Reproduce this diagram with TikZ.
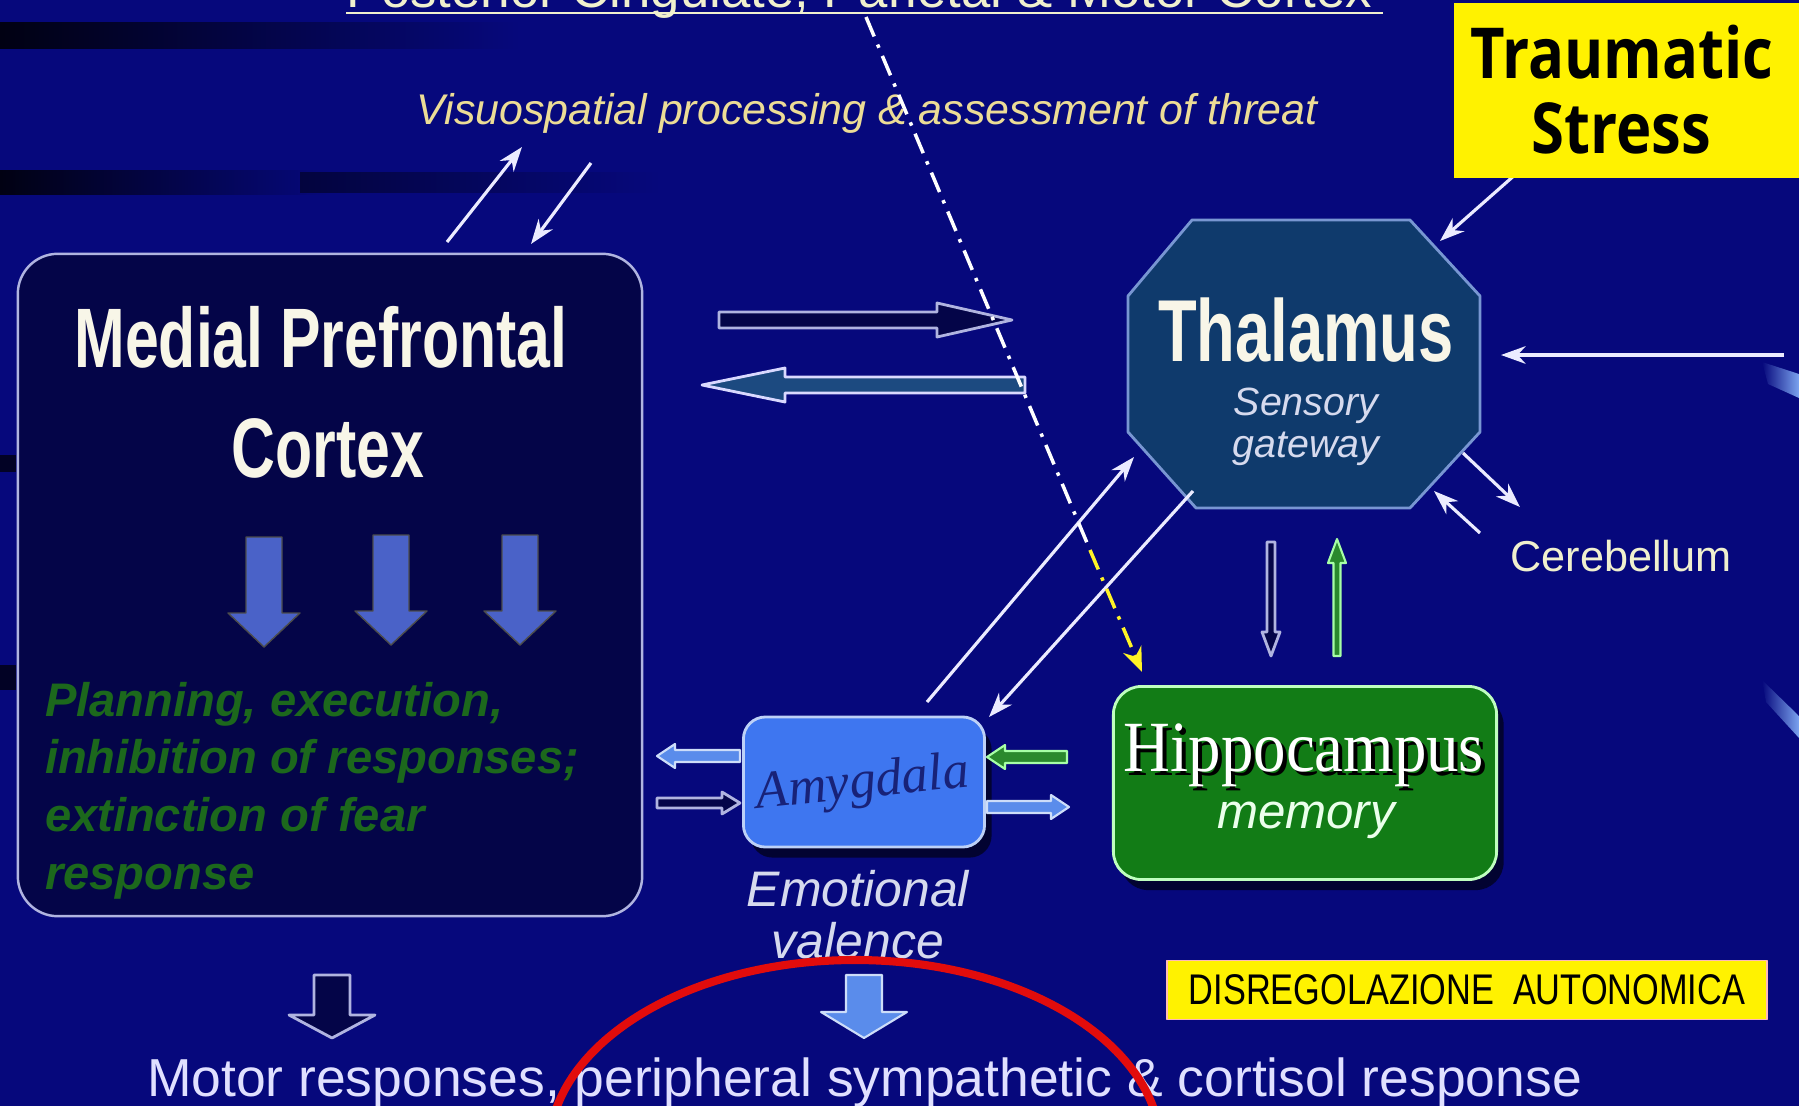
\documentclass[tikz,border=0pt]{standalone}
\usepackage{fontspec}
\setmainfont{Liberation Sans}
\newfontfamily\condbold[FakeStretch=0.72]{Liberation Sans}
\newfontfamily\hipfont[FakeStretch=0.9]{Liberation Serif}
\newfontfamily\amyfont{Liberation Serif}
\newfontfamily\stressfont[FakeStretch=0.85]{Open Sans}
\newfontfamily\autofont[FakeStretch=0.8]{Liberation Sans}
\usetikzlibrary{shadows,arrows.meta}

\definecolor{bg}{RGB}{6,8,124}
\definecolor{mpcfill}{RGB}{4,5,72}
\definecolor{frame}{RGB}{176,180,224}
\definecolor{thalfill}{RGB}{15,58,108}
\definecolor{thalline}{RGB}{120,150,210}
\definecolor{hipfill}{RGB}{18,124,22}
\definecolor{amyfill}{RGB}{62,118,240}
\definecolor{amytext}{RGB}{24,34,120}
\definecolor{planfill}{RGB}{74,98,200}
\definecolor{plangreen}{RGB}{28,104,28}
\definecolor{visuo}{RGB}{236,220,150}
\definecolor{pale}{RGB}{240,240,206}
\definecolor{cream}{RGB}{248,246,232}
\definecolor{ltblue}{RGB}{90,140,235}
\definecolor{steel}{RGB}{28,74,128}
\definecolor{ring}{RGB}{226,12,12}
\definecolor{soft}{RGB}{214,218,238}

\newcommand{\fsz}[1]{\fontsize{#1}{#1}\selectfont}
% block arrow: style, tail x, tail y, direction, length, shaft half-width, head half-width, head length
\newcommand{\blockarrow}[8]{%
  \path[#1, shift={(#2,#3)}, rotate=#4]
    (0,-#6) -- ({#5-#8},-#6) -- ({#5-#8},-#7) -- (#5,0) -- ({#5-#8},#7) -- ({#5-#8},#6) -- (0,#6) -- cycle;}

\begin{document}
\begin{tikzpicture}[x=0.01cm, y=-0.01cm, line join=round,
  every node/.style={inner sep=0pt, outer sep=0pt},
  thinarrow/.style={draw=white!92!blue, line width=0.9pt, -{Stealth[length=7pt,width=5pt]}},
  mpcarrow/.style={fill=planfill, draw=black!70, line width=0.4pt},
  outarrow/.style={fill=mpcfill, draw=frame, line width=0.8pt},
  steelarrow/.style={fill=steel, draw=white!85!blue, line width=0.8pt},
  bluearrow/.style={fill=ltblue, draw=white!70!ltblue, line width=0.6pt},
  greenarrow/.style={fill=hipfill!90!white, draw=white!65!green, line width=0.6pt},
  mpcbox/.style={draw=frame, fill=mpcfill, line width=0.7pt, rounded corners=0.4cm,
    minimum width=6.24cm, minimum height=6.62cm},
  hipbox/.style={draw=white!75!green, fill=hipfill, line width=0.8pt, rounded corners=0.28cm,
    minimum width=3.83cm, minimum height=1.93cm,
    drop shadow={shadow xshift=2pt, shadow yshift=-3pt, fill=black, opacity=0.6}},
  amybox/.style={draw=white!60!ltblue, fill=amyfill, line width=0.8pt, rounded corners=0.22cm,
    minimum width=2.41cm, minimum height=1.30cm,
    drop shadow={shadow xshift=2pt, shadow yshift=-3pt, fill=black, opacity=0.6}},
  dashdot/.style={line width=1pt, dash pattern=on 6pt off 2.5pt on 1pt off 2.5pt}
]
\path[use as bounding box] (0,0) rectangle (1799,1106);
\clip (0,0) rectangle (1799,1106);
\fill[bg] (0,0) rectangle (1799,1106);

% dark streaks of the slide background
\shade[left color=black!85!bg, right color=bg] (0,22) rectangle (520,48);
\shade[left color=black!85!bg, right color=bg] (0,170) rectangle (330,194);
\shade[left color=black!50!bg, right color=bg] (300,172) rectangle (660,192);
\fill[black!70!bg] (0,455) rectangle (16,472);
\fill[black!70!bg] (0,665) rectangle (16,690);
\shade[left color=bg, right color=ltblue!80!white] (1762,362) -- (1799,374) -- (1799,398) -- (1768,384) -- cycle;
\shade[left color=bg, right color=ltblue!80!white] (1762,680) -- (1799,716) -- (1799,738) -- (1766,702) -- cycle;

% title at the top edge
\node[anchor=base west, font=\fsz{15}, text=pale] (title) at (346,8) {Posterior Cingulate, Parietal \& Motor Cortex};
\draw[pale, line width=0.8pt] (346,13) -- (1383,13);

% medial prefrontal cortex
\node[mpcbox] (mpc) at (330,585) {};
\node[anchor=base, font=\condbold\bfseries\fsz{24}, text=cream] (mpc1) at (321,367) {Medial Prefrontal};
\node[anchor=base, font=\condbold\bfseries\fsz{24}, text=cream] (mpc2) at (328,477) {Cortex};
\foreach \x/\t in {264/537, 391/535, 520/535}
  \blockarrow{mpcarrow}{\x}{\t}{-90}{110}{18}{36}{34};
\node[anchor=north west, align=left, font=\bfseries\itshape\fontsize{13.4}{16.4}\selectfont, text=plangreen] (plan) at (45,682)
  {Planning, execution,\\inhibition of responses;\\extinction of fear\\response};

% visuospatial processing
\node[anchor=base, font=\itshape\fsz{12.2}, text=visuo] (visuo) at (867,124) {Visuospatial processing \& assessment of threat};
\coordinate (vsA) at (447,242); \coordinate (vsB) at (522,147);
\coordinate (vsC) at (591,163); \coordinate (vsD) at (531,244);
\draw[thinarrow] (vsA) -- (vsB);
\draw[thinarrow] (vsC) -- (vsD);

% cortex <-> thalamus
\blockarrow{outarrow}{719}{320}{0}{293}{8}{17}{75}
\blockarrow{steelarrow}{1025}{385}{180}{323}{8}{17}{83}

% thalamus
\node[minimum width=3.52cm, minimum height=2.88cm] (thal) at (1304,364) {};
\filldraw[fill=thalfill, draw=thalline, line width=0.8pt]
  (1128,296) -- (1192,220) -- (1410,220) -- (1480,296) -- (1480,432) -- (1410,508) -- (1196,508) -- (1128,432) -- cycle;
\node[anchor=base, font=\condbold\bfseries\fsz{25}, text=cream] (thal1) at (1306,361) {Thalamus};
\node[anchor=base, font=\itshape\fsz{11.2}, text=soft] (thal2) at (1306,415) {Sensory};
\node[anchor=base, font=\itshape\fsz{11.2}, text=soft] (thal3) at (1306,457) {gateway};

% inputs to the thalamus
\coordinate (sensIn) at (1784,355); \coordinate (sensEnd) at (1501,355);
\draw[thinarrow] (sensIn) -- (sensEnd);
\coordinate (strIn) at (1525,166); \coordinate (strEnd) at (1440,241);
\draw[thinarrow] (strIn) -- (strEnd);

% cerebellum
\node[anchor=base, font=\fsz{12.3}, text=pale] (cereb) at (1621,571) {Cerebellum};
\coordinate (cbA) at (1463,453); \coordinate (cbB) at (1520,507);
\coordinate (cbC) at (1480,533); \coordinate (cbD) at (1434,491);
\draw[thinarrow] (cbA) -- (cbB);
\draw[thinarrow] (cbC) -- (cbD);

% thalamus <-> hippocampus
\blockarrow{outarrow}{1271}{542}{-90}{114}{4}{9}{24}
\blockarrow{greenarrow}{1337}{656}{90}{117}{3.5}{9}{24}

% hippocampus
\node[hipbox] (hip) at (1305,783) {};
\node[anchor=base, font=\hipfont\fsz{20.5}, text=black] at (1308,775) {Hippocampus};
\node[anchor=base, font=\hipfont\fsz{20.5}, text=white] (hip1) at (1304,771) {Hippocampus};
\node[anchor=base, font=\itshape\fsz{14}, text=white!92!green] (hip2) at (1306,828) {memory};

% amygdala
\node[amybox] (amy) at (864,782) {};
\node[font=\amyfont\itshape\fsz{15}, text=amytext, rotate=6] (amy1) at (863,785) {Amygdala};
\node[anchor=base, font=\itshape\fsz{14.2}, text=soft] (emo1) at (858,906) {Emotional};
\node[anchor=base, font=\itshape\fsz{14.2}, text=soft] (emo2) at (858,958) {valence};
\blockarrow{bluearrow}{740}{756}{180}{83}{6}{12}{18}
\blockarrow{outarrow}{657}{803}{0}{83}{5}{11}{18}
\blockarrow{greenarrow}{1067}{757}{180}{80}{6}{12}{18}
\blockarrow{bluearrow}{987}{807}{0}{82}{6}{12}{18}

% amygdala <-> thalamus
\coordinate (amyOut) at (927,702); \coordinate (thalIn) at (1134,457);
\coordinate (thalOut) at (1193,491); \coordinate (amyIn) at (989,717);
\draw[thinarrow] (amyOut) -- (thalIn);
\draw[thinarrow] (thalOut) -- (amyIn);

% dash-dot pathway from the posterior cortices to the hippocampus
\coordinate (dd0) at (866,17); \coordinate (ddm) at (1090,550); \coordinate (dd1) at (1142,672);
\draw[white, dashdot] (dd0) -- (ddm);
\draw[yellow!85!white, dashdot, -{Stealth[length=7pt,width=5.5pt]}] (ddm) -- (dd1);

% outputs
\blockarrow{outarrow}{332}{975}{-90}{63}{18}{43}{23}
\blockarrow{bluearrow}{864}{975}{-90}{63}{18}{43}{26}
\node[anchor=base west, font=\fsz{15.2}, text=white!88!blue] (motor) at (147,1096)
  {Motor responses, peripheral sympathetic \& cortisol response};
\draw[ring, line width=2.3pt] (855,1150) ellipse [x radius=306, y radius=190];

% labels in yellow
\node[fill=yellow, draw=pink!60!red!50, line width=0.4pt, minimum width=6.0cm, minimum height=0.59cm,
  font=\autofont\fsz{12.2}, text=black] (dis) at (1467,990) {DISREGOLAZIONE\ \ AUTONOMICA};
\node[fill=yellow, anchor=north west, minimum width=3.49cm, minimum height=1.75cm] (stress) at (1454,3) {};
\node[anchor=base, font=\stressfont\bfseries\fsz{20}, text=black] (stress1) at (1622,78) {Traumatic};
\node[anchor=base, font=\stressfont\bfseries\fsz{20}, text=black] (stress2) at (1621,153) {Stress};
\end{tikzpicture}
\end{document}
